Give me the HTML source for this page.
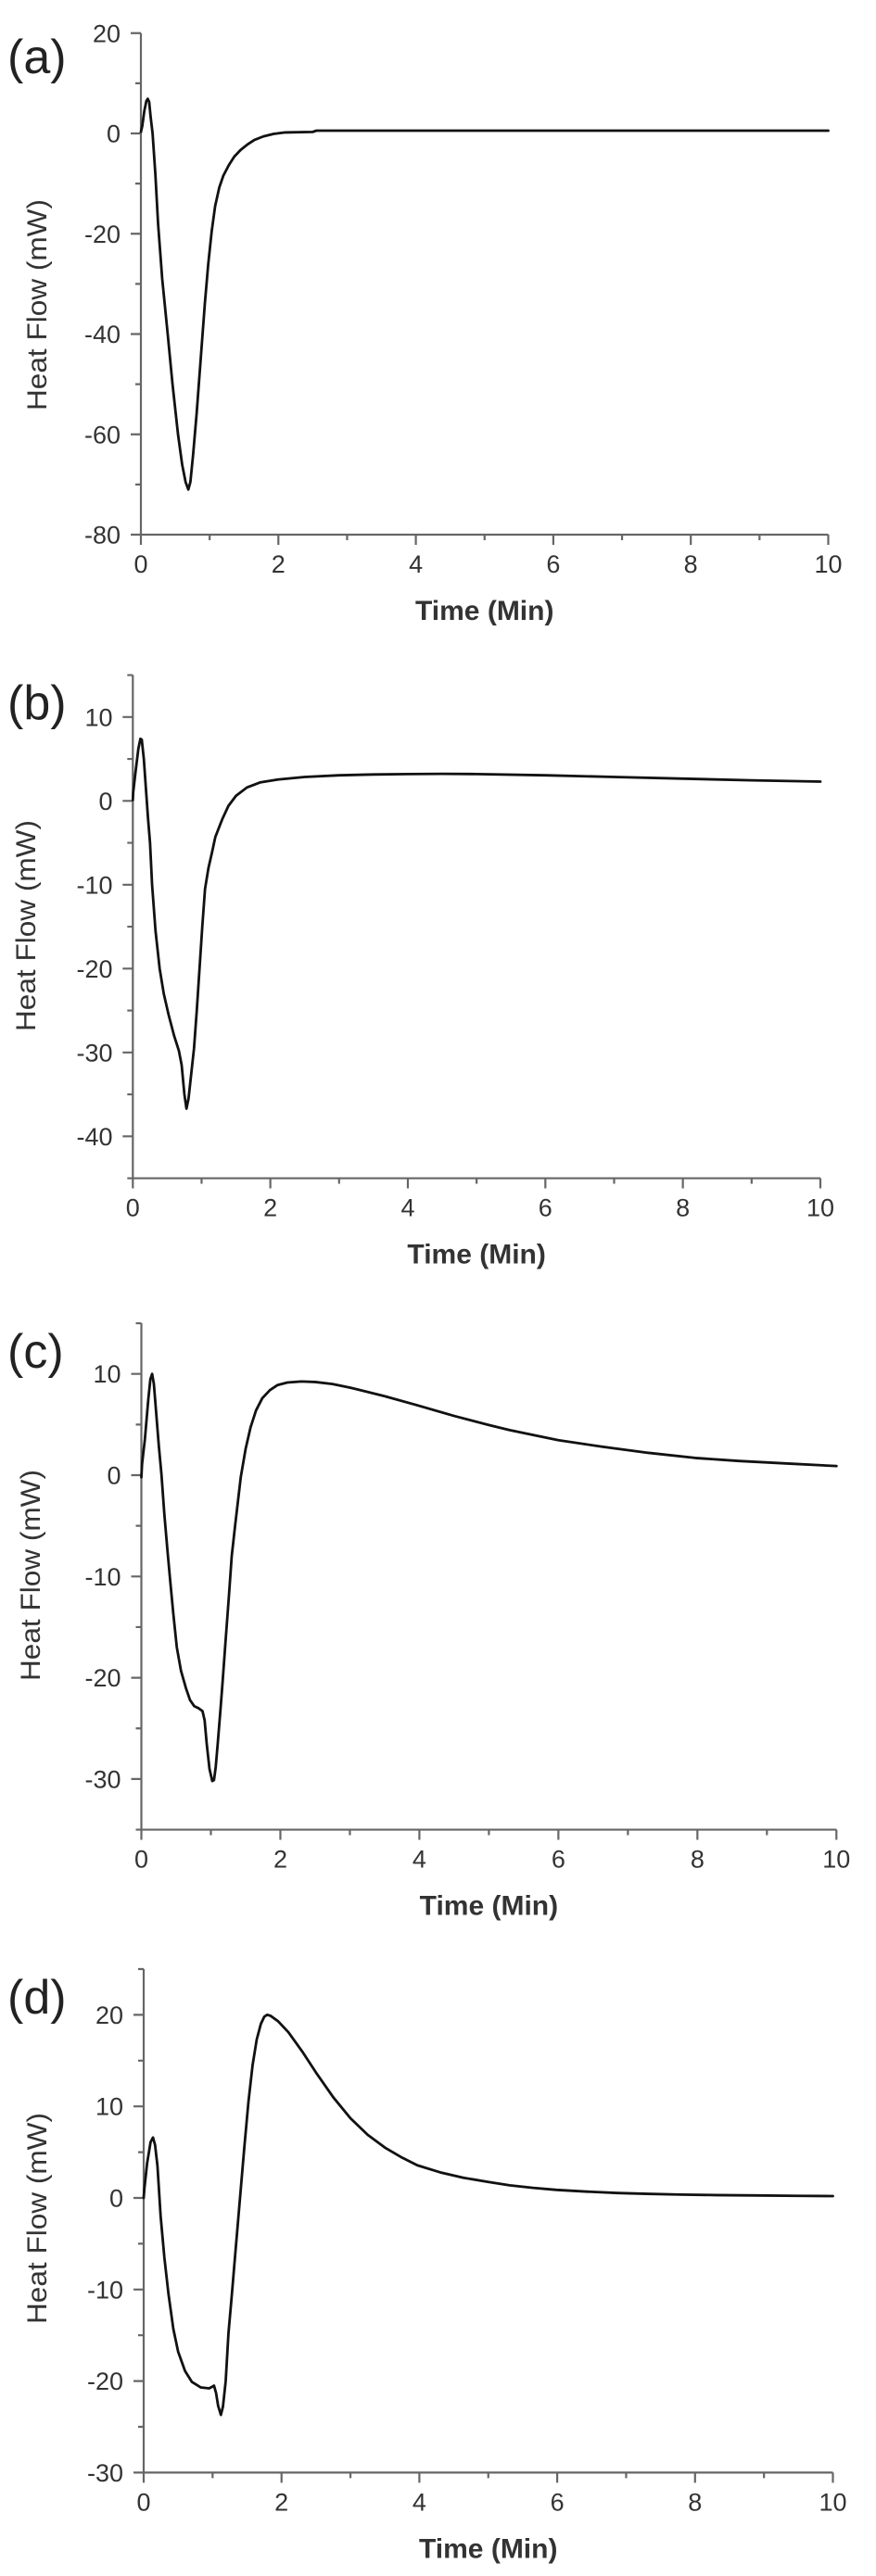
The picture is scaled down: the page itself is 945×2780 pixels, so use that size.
<!DOCTYPE html>
<html>
<head>
<meta charset="utf-8">
<style>
html,body{margin:0;padding:0;background:#fff;}
svg{display:block;}
text{font-family:"Liberation Sans",Arial,sans-serif;}
.tl{font-size:27px;fill:#333;}
.yl{font-size:30px;fill:#333;}
.xl{font-size:30px;font-weight:bold;fill:#333;}
.pl{font-size:52px;fill:#222;}
.ax{fill:none;stroke:#666;stroke-width:2.2;}
.cv{fill:none;stroke:#111;stroke-width:2.8;stroke-linejoin:round;stroke-linecap:round;}
</style>
</head>
<body>
<svg width="945" height="2780" viewBox="0 0 945 2780" xmlns="http://www.w3.org/2000/svg">
<rect width="945" height="2780" fill="#fff"/>

<!-- ================= Panel (a) ================= -->
<text class="pl" x="8" y="79">(a)</text>
<path class="ax" d="M152 35.75V577H893.5"/>
<path class="ax" d="M141 35.75H152M146 89.9H152M141 144H152M146 198.1H152M141 252.25H152M146 306.4H152M141 360.5H152M146 414.6H152M141 468.75H152M146 522.9H152M141 577H152
M152 577V588M226.15 577V583M300.3 577V588M374.45 577V583M448.6 577V588M522.75 577V583M596.9 577V588M671.05 577V583M745.2 577V588M819.35 577V583M893.5 577V588"/>
<g class="tl" text-anchor="end">
<text x="130" y="45.25">20</text>
<text x="130" y="153.5">0</text>
<text x="130" y="261.75">-20</text>
<text x="130" y="370">-40</text>
<text x="130" y="478.25">-60</text>
<text x="130" y="586.5">-80</text>
</g>
<g class="tl" text-anchor="middle">
<text x="152" y="618">0</text>
<text x="300.3" y="618">2</text>
<text x="448.6" y="618">4</text>
<text x="596.9" y="618">6</text>
<text x="745.2" y="618">8</text>
<text x="893.5" y="618">10</text>
</g>
<text class="xl" x="522.75" y="669" text-anchor="middle">Time (Min)</text>
<text class="yl" transform="translate(50,329) rotate(-90)" text-anchor="middle" textLength="228" lengthAdjust="spacingAndGlyphs">Heat Flow (mW)</text>
<g transform="translate(152,144) scale(74.15,-5.4125)">
<polyline class="cv" vector-effect="non-scaling-stroke" points="0,0.3 0.02,1.5 0.05,4.5 0.08,6.5 0.1,6.9 0.12,6.3 0.14,3.5 0.17,0 0.21,-8 0.25,-18 0.31,-29 0.39,-40 0.46,-50 0.54,-60 0.6,-66 0.65,-69.5 0.69,-71 0.72,-69.5 0.76,-64 0.81,-56 0.87,-45 0.93,-34 0.98,-26 1.03,-19.5 1.08,-14.5 1.14,-10.8 1.2,-8.4 1.28,-6.3 1.36,-4.6 1.45,-3.3 1.55,-2.2 1.65,-1.3 1.78,-0.6 1.93,-0.1 2.1,0.2 2.5,0.3 2.55,0.55 10,0.55"/>
</g>

<!-- ================= Panel (b) ================= -->
<text class="pl" x="8" y="776">(b)</text>
<path class="ax" d="M143.3 728.55V1271.55H885"/>
<path class="ax" d="M137.3 728.55H143.3M132.3 773.8H143.3M137.3 819.05H143.3M132.3 864.3H143.3M137.3 909.55H143.3M132.3 954.8H143.3M137.3 1000.05H143.3M132.3 1045.3H143.3M137.3 1090.55H143.3M132.3 1135.8H143.3M137.3 1181.05H143.3M132.3 1226.3H143.3M137.3 1271.55H143.3
M143.3 1271.55V1282.55M217.47 1271.55V1277.55M291.64 1271.55V1282.55M365.81 1271.55V1277.55M439.98 1271.55V1282.55M514.15 1271.55V1277.55M588.32 1271.55V1282.55M662.49 1271.55V1277.55M736.66 1271.55V1282.55M810.83 1271.55V1277.55M885 1271.55V1282.55"/>
<g class="tl" text-anchor="end">
<text x="121.5" y="783.3">10</text>
<text x="121.5" y="873.8">0</text>
<text x="121.5" y="964.3">-10</text>
<text x="121.5" y="1054.8">-20</text>
<text x="121.5" y="1145.3">-30</text>
<text x="121.5" y="1235.8">-40</text>
</g>
<g class="tl" text-anchor="middle">
<text x="143.3" y="1312.5">0</text>
<text x="291.64" y="1312.5">2</text>
<text x="439.98" y="1312.5">4</text>
<text x="588.32" y="1312.5">6</text>
<text x="736.66" y="1312.5">8</text>
<text x="885" y="1312.5">10</text>
</g>
<text class="xl" x="514.15" y="1363.5" text-anchor="middle">Time (Min)</text>
<text class="yl" transform="translate(38,999) rotate(-90)" text-anchor="middle" textLength="228" lengthAdjust="spacingAndGlyphs">Heat Flow (mW)</text>
<g transform="translate(143.3,864.3) scale(74.17,-9.05)">
<polyline class="cv" vector-effect="non-scaling-stroke" points="0,0.1 0.005,1 0.04,3.5 0.08,6.2 0.11,7.4 0.13,7.3 0.16,5 0.19,1.5 0.22,-2 0.25,-5 0.28,-10 0.33,-15.5 0.39,-20 0.45,-23 0.52,-25.5 0.6,-28 0.67,-29.8 0.71,-31.5 0.75,-35 0.78,-36.7 0.81,-35.5 0.85,-32.5 0.89,-29.5 0.93,-25 0.97,-20 1.01,-15 1.05,-10.5 1.1,-8 1.15,-6.2 1.2,-4.3 1.3,-2.2 1.39,-0.6 1.5,0.6 1.66,1.6 1.85,2.2 2.11,2.55 2.5,2.85 3,3.05 3.5,3.15 4,3.2 4.5,3.22 5,3.2 6,3.05 7,2.85 8,2.65 9,2.45 10,2.3"/>
</g>

<!-- ================= Panel (c) ================= -->
<text class="pl" x="8" y="1476">(c)</text>
<path class="ax" d="M152.5 1428.05V1974.55H902.3"/>
<path class="ax" d="M146.5 1428.05H152.5M141.5 1482.7H152.5M146.5 1537.35H152.5M141.5 1592H152.5M146.5 1646.65H152.5M141.5 1701.3H152.5M146.5 1755.95H152.5M141.5 1810.6H152.5M146.5 1865.25H152.5M141.5 1919.9H152.5M146.5 1974.55H152.5
M152.5 1974.55V1985.55M227.48 1974.55V1980.55M302.46 1974.55V1985.55M377.44 1974.55V1980.55M452.42 1974.55V1985.55M527.4 1974.55V1980.55M602.38 1974.55V1985.55M677.36 1974.55V1980.55M752.34 1974.55V1985.55M827.32 1974.55V1980.55M902.3 1974.55V1985.55"/>
<g class="tl" text-anchor="end">
<text x="130.5" y="1492.2">10</text>
<text x="130.5" y="1601.5">0</text>
<text x="130.5" y="1710.8">-10</text>
<text x="130.5" y="1820.1">-20</text>
<text x="130.5" y="1929.4">-30</text>
</g>
<g class="tl" text-anchor="middle">
<text x="152.5" y="2015.5">0</text>
<text x="302.46" y="2015.5">2</text>
<text x="452.42" y="2015.5">4</text>
<text x="602.38" y="2015.5">6</text>
<text x="752.34" y="2015.5">8</text>
<text x="902.3" y="2015.5">10</text>
</g>
<text class="xl" x="527.4" y="2066.5" text-anchor="middle">Time (Min)</text>
<text class="yl" transform="translate(43,1700) rotate(-90)" text-anchor="middle" textLength="228" lengthAdjust="spacingAndGlyphs">Heat Flow (mW)</text>
<g transform="translate(152.5,1592) scale(74.98,-10.93)">
<polyline class="cv" vector-effect="non-scaling-stroke" points="0,-0.2 0.01,1.1 0.05,3.5 0.1,7.5 0.13,9.5 0.155,10 0.18,9 0.2,7.3 0.25,3 0.29,0 0.33,-3.8 0.375,-7.4 0.42,-10.8 0.46,-13.7 0.51,-17 0.57,-19.3 0.64,-21 0.7,-22.2 0.76,-22.8 0.82,-23 0.88,-23.3 0.91,-24.2 0.94,-26.5 0.98,-29 1.02,-30.2 1.045,-30.1 1.07,-28.8 1.1,-26.4 1.14,-23 1.17,-20.3 1.21,-16.5 1.26,-11.9 1.3,-8 1.35,-4.9 1.43,-0.2 1.5,2.6 1.57,4.7 1.65,6.4 1.74,7.6 1.85,8.4 1.96,8.9 2.1,9.15 2.3,9.25 2.5,9.2 2.75,9 3,8.65 3.5,7.8 3.97,6.9 4.5,5.85 5,4.95 5.3,4.45 6,3.45 6.64,2.8 7.3,2.2 7.97,1.7 8.6,1.4 9.3,1.15 10,0.9"/>
</g>

<!-- ================= Panel (d) ================= -->
<text class="pl" x="8" y="2173">(d)</text>
<path class="ax" d="M155 2125V2668.4H898.5"/>
<path class="ax" d="M149 2125H155M144 2174.4H155M149 2223.8H155M144 2273.2H155M149 2322.6H155M144 2372H155M149 2421.4H155M144 2470.8H155M149 2520.2H155M144 2569.6H155M149 2619H155M144 2668.4H155
M155 2668.4V2679.4M229.35 2668.4V2674.4M303.7 2668.4V2679.4M378.05 2668.4V2674.4M452.4 2668.4V2679.4M526.75 2668.4V2674.4M601.1 2668.4V2679.4M675.45 2668.4V2674.4M749.8 2668.4V2679.4M824.15 2668.4V2674.4M898.5 2668.4V2679.4"/>
<g class="tl" text-anchor="end">
<text x="133" y="2183.9">20</text>
<text x="133" y="2282.7">10</text>
<text x="133" y="2381.5">0</text>
<text x="133" y="2480.3">-10</text>
<text x="133" y="2579.1">-20</text>
<text x="133" y="2677.9">-30</text>
</g>
<g class="tl" text-anchor="middle">
<text x="155" y="2709.4">0</text>
<text x="303.7" y="2709.4">2</text>
<text x="452.4" y="2709.4">4</text>
<text x="601.1" y="2709.4">6</text>
<text x="749.8" y="2709.4">8</text>
<text x="898.5" y="2709.4">10</text>
</g>
<text class="xl" x="526.75" y="2760.4" text-anchor="middle">Time (Min)</text>
<text class="yl" transform="translate(50,2394) rotate(-90)" text-anchor="middle" textLength="228" lengthAdjust="spacingAndGlyphs">Heat Flow (mW)</text>
<g transform="translate(155,2372) scale(74.35,-9.88)">
<polyline class="cv" vector-effect="non-scaling-stroke" points="0,0 0.01,1 0.05,3.8 0.1,6.1 0.135,6.6 0.165,5.8 0.2,3.5 0.246,-2 0.3,-6.5 0.36,-10.5 0.43,-14.3 0.5,-16.8 0.6,-18.9 0.7,-20.1 0.83,-20.7 0.95,-20.8 1,-20.6 1.02,-20.5 1.05,-21.3 1.08,-22.7 1.12,-23.7 1.15,-22.8 1.19,-20 1.23,-14.8 1.28,-10.5 1.33,-6 1.4,0.2 1.46,5.5 1.52,10.5 1.58,14.5 1.64,17.3 1.7,19 1.75,19.8 1.79,20 1.84,19.9 1.95,19.3 2.1,18.1 2.3,16 2.5,13.7 2.75,11 3,8.7 3.25,6.9 3.5,5.5 3.75,4.4 3.97,3.57 4.3,2.8 4.64,2.2 5,1.75 5.31,1.38 5.65,1.1 5.99,0.88 6.4,0.7 6.88,0.54 7.3,0.45 7.78,0.37 8.3,0.31 8.9,0.27 9.5,0.23 10,0.2"/>
</g>
</svg>
</body>
</html>
